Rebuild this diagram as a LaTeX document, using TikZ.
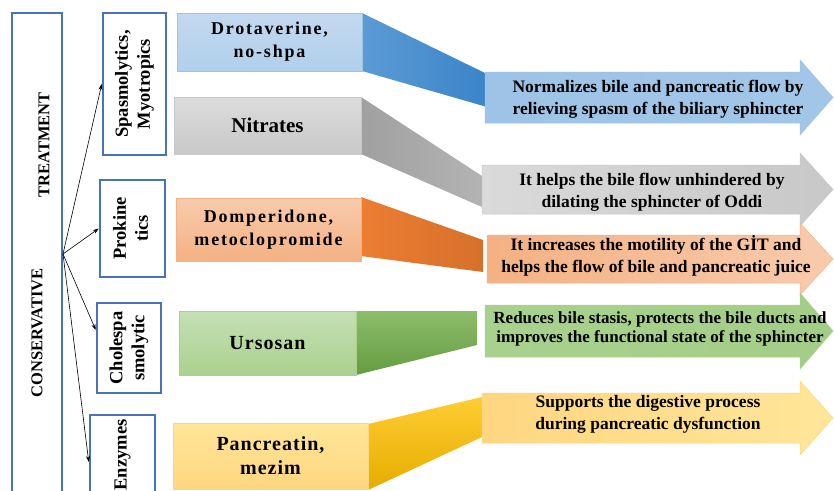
\documentclass[tikz,border=0pt]{standalone}
\usepackage{fontspec}
\usepackage{graphicx}
\setmainfont{Liberation Serif}
\usetikzlibrary{arrows.meta}

\definecolor{frameblue}{HTML}{4A72B8}
\definecolor{blueL}{HTML}{C3D9F0}
\definecolor{blueM}{HTML}{9DC3E6}
\definecolor{blueD}{HTML}{5B9BD5}
\definecolor{blueDD}{HTML}{3A84C8}
\definecolor{grayL}{HTML}{DCDCDC}
\definecolor{grayM}{HTML}{C8C8C8}
\definecolor{grayD}{HTML}{A0A0A0}
\definecolor{orL}{HTML}{F8CBAD}
\definecolor{orM}{HTML}{F4B183}
\definecolor{orD}{HTML}{ED7D31}
\definecolor{grL}{HTML}{C5E0B4}
\definecolor{grM}{HTML}{A9D18E}
\definecolor{grD}{HTML}{70AD47}
\definecolor{yeL}{HTML}{FFE699}
\definecolor{yeM}{HTML}{FFD680}
\definecolor{yeD}{HTML}{FFC000}

\tikzset{
  frame/.style={draw=frameblue, line width=2.5pt, fill=white, inner sep=0pt},
  drug/.style={draw=#1, line width=0.6pt, inner sep=0pt, align=center,
    font=\fontsize{18}{23}\selectfont\bfseries\addfontfeature{LetterSpace=10}},
  effect/.style={align=center, inner sep=0pt,
    font=\fontsize{17.5}{22}\selectfont\bfseries},
  block/.style={draw=#1, line width=0.5pt}
}

\begin{document}
\begin{tikzpicture}[x=1pt,y=-1pt]
    \useasboundingbox (0,0) rectangle (834,490);

    % Hauptkasten
    \node[frame, line width=2pt, minimum width=50, minimum height=482] (main) at (37,254) {};
    \node[rotate=90, font=\fontsize{16.5}{20}\selectfont\bfseries] (cons) at (37,333) {CONSERVATIVE};
    \node[rotate=90, font=\fontsize{16.5}{20}\selectfont\bfseries] (treat) at (44,145) {TREATMENT};

    % Gruppen
    \node[frame, minimum width=63, minimum height=142] (spasm) at (134.5,84)
        {\rotatebox{90}{\fontsize{18.5}{22}\selectfont\bfseries\begin{tabular}{@{}c@{}}Spasmolytics,\\Myotropics\end{tabular}}};
    \node[frame, minimum width=65, minimum height=97] (prok) at (132.5,228.5)
        {\rotatebox{90}{\fontsize{18.5}{22}\selectfont\bfseries\begin{tabular}{@{}c@{}}Prokine\\tics\end{tabular}}};
    \node[frame, minimum width=64, minimum height=90] (chol) at (129,348)
        {\rotatebox{90}{\fontsize{18.5}{22}\selectfont\bfseries\begin{tabular}{@{}c@{}}Cholespa\\smolytic\end{tabular}}};
    \node[frame, minimum width=65, minimum height=80] (enz) at (122.5,455)
        {\rotatebox{90}{\fontsize{18.5}{22}\selectfont\bfseries Enzymes}};

    % Pfeile
    \draw[-{Stealth[length=6pt,width=4pt]}, semithick] (main.east) -- (spasm.west);
    \draw[-{Stealth[length=6pt,width=4pt]}, semithick] (main.east) -- (prok.west);
    \draw[-{Stealth[length=6pt,width=4pt]}, semithick] (main.east) -- ([yshift=18pt]chol.west);
    \draw[-{Stealth[length=6pt,width=4pt]}, semithick] (main.east) -- ([yshift=-7pt]enz.west);

    % Verbindungsflaechen
    \shade[left color=blueD, right color=blueDD] (362,13) -- (487,74) -- (487,107) -- (362,71) -- cycle;
    \shade[left color=grayD, right color=grayD!80] (361,97) -- (482,176) -- (482,207) -- (361,154) -- cycle;
    \shade[left color=orD, right color=orD!90!black] (361,197) -- (483,240) -- (483,272) -- (361,256) -- cycle;
    \shade[top color=grD!80, bottom color=grD!90!black] (356,311) -- (477,311) -- (477,345) -- (356,375) -- cycle;
    \shade[top color=yeD!80, bottom color=yeD!90!black] (368,424) -- (482,397) -- (482,437) -- (368,490) -- cycle;

    % Wirkstoffe
    \node[drug=blueM, top color=blueL, bottom color=blueM!80, minimum width=185, minimum height=58] (drot) at (269.5,42)
        {Drotaverine,\\no-shpa};
    \node[drug=grayM, top color=grayL, bottom color=grayM, minimum width=187, minimum height=57,
        font=\fontsize{21}{24}\selectfont\bfseries] (nitr) at (267.5,125.5) {Nitrates};
    \node[drug=orM, top color=orL, bottom color=orM, minimum width=185, minimum height=63] (domp) at (268.5,229.5)
        {Domperidone,\\metoclopromide};
    \node[drug=grM, top color=grL, bottom color=grM, minimum width=177, minimum height=64,
        font=\fontsize{20}{24}\selectfont\bfseries\addfontfeature{LetterSpace=5}] (urso) at (267.5,343) {Ursosan};
    \node[drug=yeM, top color=yeL, bottom color=yeM, minimum width=195, minimum height=66,
        font=\fontsize{20}{24}\selectfont\bfseries\addfontfeature{LetterSpace=5}] (panc) at (270.5,456) {Pancreatin,\\mezim};

    % Blockpfeile
    \shade[block=blueM, left color=blueM, right color=blueM!85!blueL]
        (485,72) -- (800,72) -- (800,60) -- (833,97.5) -- (800,135) -- (800,123) -- (485,123) -- cycle;
    \shade[block=grayM, left color=grayL!90!grayM, right color=grayM]
        (482,165) -- (800,165) -- (800,153) -- (833,189.5) -- (800,226) -- (800,214) -- (482,214) -- cycle;
    \shade[block=orM, left color=orM, right color=orL]
        (487,235) -- (800,235) -- (800,223) -- (833,259) -- (800,295) -- (800,283) -- (487,283) -- cycle;
    \shade[block=grM, left color=grM, right color=grM!90!grD]
        (485,305) -- (800,305) -- (800,293) -- (833,331) -- (800,369) -- (800,357) -- (485,357) -- cycle;
    \shade[block=yeM, left color=yeM, right color=yeL]
        (482,393) -- (800,393) -- (800,381) -- (833,418) -- (800,455) -- (800,443) -- (482,443) -- cycle;

    % Wirkungen
    \node[effect] (eff1) at (658,99) {Normalizes bile and pancreatic flow by\\relieving spasm of the biliary sphincter};
    \node[effect] (eff2) at (652,192.5) {It helps the bile flow unhindered by\\dilating the sphincter of Oddi};
    \node[effect] (eff3) at (656,256) {It increases the motility of the GİT and\\helps the flow of bile and pancreatic juice};
    \node[effect, font=\fontsize{17}{19}\selectfont\bfseries] (eff4) at (660,329)
        {Reduces bile stasis, protects the bile ducts and\\improves the functional state of the sphincter};
    \node[effect] (eff5) at (648,414) {Supports the digestive process\\during pancreatic dysfunction};
\end{tikzpicture}
\end{document}
